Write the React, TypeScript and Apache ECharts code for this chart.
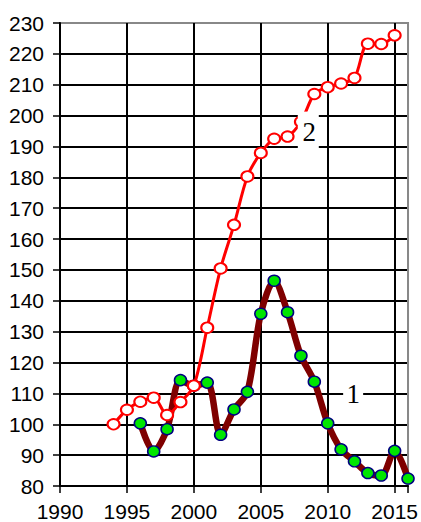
import React, { useEffect, useRef } from "react";
import * as echarts from "echarts";

const years1 = [1996, 1997, 1998, 1999, 2000, 2001, 2002, 2003, 2004, 2005, 2006, 2007, 2008, 2009, 2010, 2011, 2012, 2013, 2014, 2015, 2016];
const values1 = [100.3, 91.2, 98.4, 114.3, 112.5, 113.5, 96.6, 104.8, 110.5, 135.8, 146.5, 136.3, 122.2, 113.8, 100.3, 91.9, 88, 84.2, 83.4, 91.4, 82.4];

const years2 = [1994, 1995, 1996, 1997, 1998, 1999, 2000, 2001, 2002, 2003, 2004, 2005, 2006, 2007, 2008, 2009, 2010, 2011, 2012, 2013, 2014, 2015];
const values2 = [100, 104.7, 107.3, 108.6, 103, 107.2, 112.5, 131.3, 150.5, 164.6, 180.3, 187.9, 192.5, 193.2, 198, 207, 209.2, 210.4, 212.2, 223.3, 223.2, 226];

const seriesLabels = ["1", "2"];
const labelCoords: [number, number][] = [[2011.9, 109.7], [2008.55, 195.3]];

const yTicksCount = 16;
const xTicksCount = 7;

export default function App() {
  const ref = useRef<HTMLDivElement>(null);
  useEffect(() => {
    if (!ref.current) return;
    const chart = echarts.init(ref.current, undefined, { renderer: "svg" });
    const yColors = Array.from({ length: yTicksCount }, (_, i) => (i === yTicksCount - 1 ? "#888" : "#000"));
    const xColors = Array.from({ length: xTicksCount }, (_, i) => (i === xTicksCount - 1 ? "#888" : "#000"));
    const labelFont = {
      fontFamily: "'Liberation Serif', 'Times New Roman', serif",
      fontSize: 27,
      color: "#000",
    };
    const axisFont = {
      fontFamily: "'Liberation Sans', Arial, sans-serif",
      fontSize: 21,
      color: "#000",
    };
    chart.setOption({
      animation: false,
      backgroundColor: "#fff",
      grid: {
        left: 60,
        top: 23,
        right: 12,
        bottom: 34,
        show: true,
        borderColor: "#888",
        borderWidth: 2,
      },
      xAxis: {
        type: "value",
        min: 1990,
        max: 2016,
        interval: 5,
        axisLine: { show: true, lineStyle: { color: "#000", width: 2 } },
        axisTick: { show: true, length: 7, lineStyle: { color: "#000", width: 1.5 } },
        axisLabel: {
          margin: 15,
          hideOverlap: false,
          ...axisFont,
          formatter: (v: number) => (v % 5 === 0 ? String(v) : ""),
        },
        splitLine: { show: true, lineStyle: { color: xColors, width: 2 } },
      },
      yAxis: {
        type: "value",
        min: 80,
        max: 230,
        interval: 10,
        axisLine: { show: true, lineStyle: { color: "#000", width: 2 } },
        axisTick: { show: true, length: 7, lineStyle: { color: "#000", width: 1.5 } },
        axisLabel: { margin: 16, ...axisFont },
        splitLine: { show: true, lineStyle: { color: yColors, width: 2 } },
      },
      series: [
        {
          type: "line",
          name: seriesLabels[0],
          data: years1.map((y, i) => [y, values1[i]]),
          smooth: 0.3,
          symbol: "circle",
          symbolSize: [12, 11],
          z: 2,
          lineStyle: { color: "#7f0000", width: 6.5 },
          itemStyle: { color: "#00e600", borderColor: "#000080", borderWidth: 1.5 },
          markPoint: {
            silent: true,
            symbol: "rect",
            symbolSize: [20, 14],
            itemStyle: { color: "#fff", borderWidth: 0 },
            label: { show: true, position: "inside", formatter: seriesLabels[0], ...labelFont },
            data: [{ coord: labelCoords[0] }],
          },
        },
        {
          type: "line",
          name: seriesLabels[1],
          data: years2.map((y, i) => [y, values2[i]]),
          smooth: 0.3,
          symbol: "circle",
          symbolSize: [12, 10.5],
          z: 3,
          lineStyle: { color: "#ff0000", width: 3 },
          itemStyle: { color: "#fff", borderColor: "#ff0000", borderWidth: 2 },
          markPoint: {
            silent: true,
            symbol: "rect",
            symbolSize: [21, 37],
            itemStyle: { color: "#fff", borderWidth: 0 },
            label: { show: true, position: "inside", formatter: seriesLabels[1], offset: [1, 2], ...labelFont },
            data: [{ coord: labelCoords[1] }],
          },
        },
      ],
    });
    return () => chart.dispose();
  }, []);
  return <div ref={ref} style={{ position: "fixed", left: 0, top: 0, width: 421, height: 522 }} />;
}
